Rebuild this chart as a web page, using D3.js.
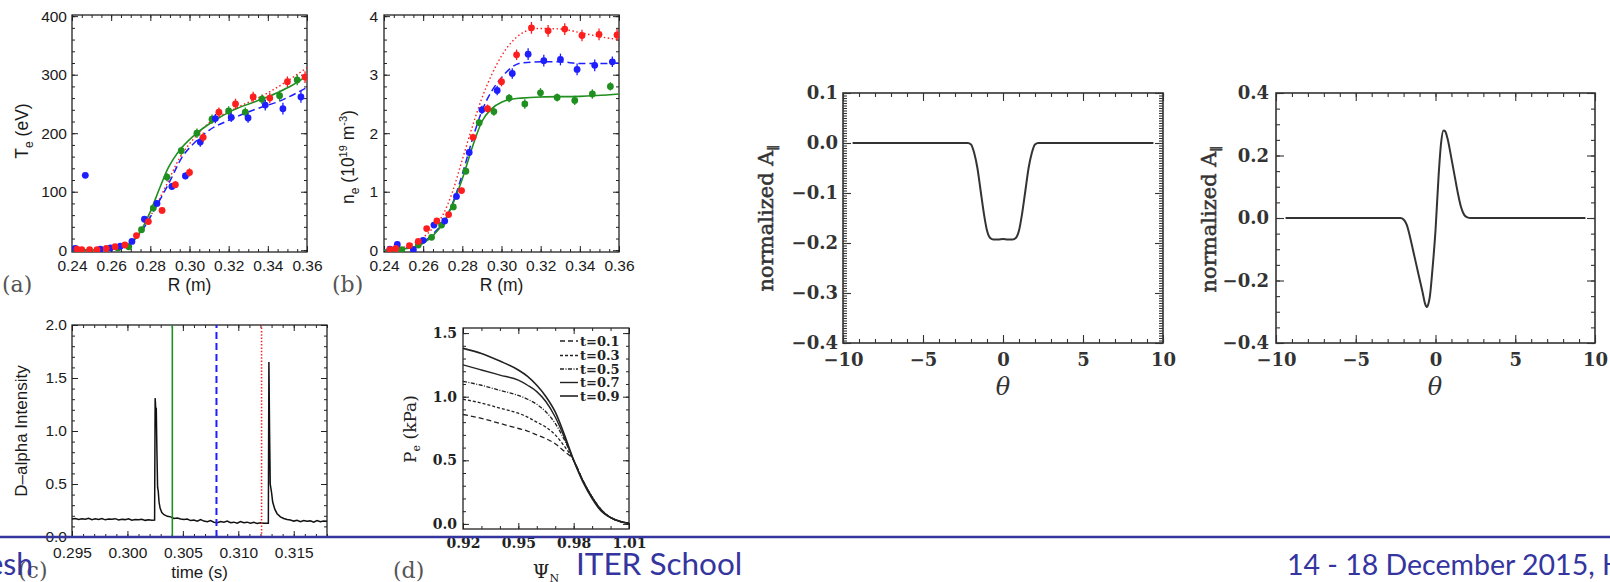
<!DOCTYPE html>
<html><head><meta charset="utf-8">
<script src="https://cdn.jsdelivr.net/npm/d3@7"></script>
<style>body{margin:0;background:#fff;overflow:hidden}svg{display:block}</style>
</head><body>
<svg id="c" width="1610" height="582"></svg>
<script>
// ---------------- DATA ----------------
// (a) Te profiles: [R, Te, err]
const teGreen = [[0.2415,2,3],[0.2635,4,3],[0.269,6,3],[0.2755,35,4],[0.2815,72,5],[0.2885,125,7],[0.2958,170,7],[0.3038,200,8],[0.3115,224,8],[0.32,238,8],[0.3285,236,8],[0.337,258,8],[0.346,264,9],[0.355,291,9]];
const teRed = [[0.2425,2,3],[0.245,1,3],[0.249,1,3],[0.2528,1,3],[0.2575,3,3],[0.262,6,3],[0.267,9,3],[0.2729,25,4],[0.279,49,5],[0.286,68,5],[0.2928,112,6],[0.300,133,7],[0.307,193,8],[0.315,236,8],[0.3235,250,9],[0.3325,262,9],[0.341,260,9],[0.350,288,9],[0.359,296,10]];
const teBlue = [[0.2417,3,3],[0.2468,128,0],[0.2545,2,3],[0.2596,4,3],[0.2647,7,3],[0.2706,15,4],[0.277,53,5],[0.2834,80,5],[0.291,109,6],[0.2979,127,6],[0.3055,185,8],[0.3132,225,8],[0.3213,227,8],[0.3299,226,8],[0.3387,248,9],[0.3477,242,10],[0.3569,262,10]];
const teFitGreen = [[0.24,0],[0.255,1],[0.265,5],[0.27,12],[0.275,32],[0.28,66],[0.285,108],[0.289,140],[0.292,157],[0.296,175],[0.304,201],[0.312,220],[0.322,239],[0.336,257],[0.346,271],[0.352,281],[0.36,298]];
const teFitBlue = [[0.24,0],[0.26,2],[0.268,8],[0.275,30],[0.283,75],[0.29,118],[0.296,158],[0.302,182],[0.31,205],[0.32,222],[0.333,240],[0.346,255],[0.36,278]];
const teFitRed = [[0.24,0],[0.26,2],[0.268,8],[0.275,32],[0.28,58],[0.288,110],[0.295,158],[0.302,190],[0.309,215],[0.3226,241],[0.3395,268],[0.36,312]];
// (b) ne profiles: [R, ne, err]
const neRed = [[0.243,0.01,0.02],[0.246,0.03,0.02],[0.253,0.08,0.03],[0.2575,0.15,0.03],[0.2618,0.37,0.04],[0.267,0.5,0.04],[0.273,0.61,0.04],[0.2796,1.02,0.05],[0.2855,1.93,0.06],[0.2929,2.42,0.07],[0.300,2.88,0.08],[0.3077,3.34,0.09],[0.3153,3.8,0.1],[0.3238,3.75,0.1],[0.3323,3.78,0.1],[0.3411,3.67,0.1],[0.3498,3.69,0.1],[0.359,3.68,0.1]];
const neBlue = [[0.243,0.02,0.02],[0.2468,0.1,0.03],[0.255,0.01,0.02],[0.260,0.17,0.03],[0.2655,0.43,0.04],[0.271,0.5,0.04],[0.277,0.92,0.05],[0.2835,1.67,0.06],[0.290,2.4,0.07],[0.2978,2.73,0.08],[0.3055,3.02,0.09],[0.3136,3.35,0.1],[0.3216,3.24,0.1],[0.3301,3.26,0.1],[0.3386,3.09,0.1],[0.3476,3.16,0.1],[0.3566,3.22,0.09]];
const neGreen = [[0.244,0.0,0.02],[0.249,0.01,0.02],[0.2575,0.09,0.03],[0.2643,0.22,0.03],[0.2694,0.43,0.04],[0.2754,0.74,0.05],[0.2818,1.35,0.05],[0.2886,2.18,0.06],[0.2961,2.37,0.07],[0.3039,2.6,0.07],[0.3119,2.5,0.08],[0.3199,2.69,0.08],[0.3284,2.61,0.07],[0.3374,2.56,0.08],[0.3464,2.67,0.08],[0.3556,2.8,0.07]];
const neFitGreen = [[0.24,0],[0.25,0.02],[0.26,0.12],[0.265,0.25],[0.27,0.45],[0.275,0.78],[0.28,1.22],[0.285,1.75],[0.29,2.2],[0.295,2.42],[0.30,2.53],[0.305,2.58],[0.31,2.6],[0.32,2.62],[0.34,2.63],[0.36,2.67]];
const neFitBlue = [[0.24,0],[0.25,0.03],[0.26,0.14],[0.265,0.28],[0.27,0.47],[0.275,0.8],[0.28,1.3],[0.285,1.88],[0.29,2.38],[0.295,2.72],[0.30,2.95],[0.305,3.12],[0.31,3.2],[0.32,3.22],[0.33,3.22],[0.34,3.19],[0.35,3.19],[0.36,3.2]];
const neFitRed = [[0.24,0],[0.25,0.05],[0.26,0.22],[0.265,0.38],[0.27,0.6],[0.275,1.0],[0.28,1.55],[0.285,2.1],[0.29,2.6],[0.295,3.0],[0.30,3.32],[0.305,3.55],[0.31,3.7],[0.315,3.77],[0.32,3.79],[0.33,3.78],[0.34,3.72],[0.35,3.65],[0.36,3.6]];
// (c) D-alpha trace
const daTime = [0.2950,0.2953,0.2956,0.2959,0.2962,0.2965,0.2968,0.2971,0.2974,0.2977,0.2980,0.2983,0.2986,0.2989,0.2992,0.2995,0.2998,0.3001,0.3004,0.3007,0.3010,0.3013,0.3016,0.3019,0.3022,0.30245,
  0.30250,0.30256,0.30260,0.30266,0.30272,0.30278,0.30285,0.30295,0.3031,0.3033,0.3036,0.3039,0.3042,0.3045,0.3048,0.3051,0.3054,0.3057,0.3060,0.3063,0.3066,0.3069,0.3072,0.3075,0.3078,0.3081,0.3084,0.3087,0.3090,0.3093,0.3096,0.3099,0.3102,0.3105,0.3108,0.3111,0.3114,0.3117,0.3120,0.3123,0.31271,
  0.31276,0.31282,0.31288,0.3130,0.3131,0.3133,0.3135,0.3138,0.3141,0.3144,0.3147,0.3150,0.3153,0.3156,0.3159,0.3162,0.3165,0.3168,0.3171,0.3174,0.3177,0.3180];
const daVal = [0.170,0.175,0.165,0.172,0.168,0.176,0.163,0.171,0.166,0.174,0.162,0.170,0.167,0.173,0.160,0.168,0.164,0.171,0.158,0.166,0.162,0.168,0.157,0.163,0.158,0.160,
  1.31,1.20,1.22,0.80,0.47,0.43,0.33,0.27,0.23,0.21,0.195,0.19,0.175,0.18,0.17,0.165,0.17,0.155,0.16,0.15,0.165,0.15,0.145,0.155,0.14,0.135,0.145,0.14,0.15,0.135,0.14,0.13,0.145,0.135,0.14,0.13,0.138,0.128,0.135,0.13,0.13,
  1.65,1.0,0.5,0.42,0.33,0.26,0.22,0.19,0.175,0.165,0.16,0.15,0.158,0.145,0.155,0.148,0.152,0.14,0.155,0.145,0.15,0.148];
const daMarkers = [0.30405, 0.30803, 0.3121];
// (d) Pe profiles
const pePsi = [0.92,0.93,0.94,0.95,0.955,0.96,0.965,0.97,0.975,0.98,0.985,0.99,0.995,1.0,1.005,1.01];
const peT01 = [0.86,0.83,0.79,0.75,0.73,0.70,0.67,0.63,0.57,0.50,0.34,0.21,0.11,0.05,0.02,0.005];
const peT03 = [0.98,0.95,0.91,0.87,0.84,0.80,0.76,0.70,0.61,0.50,0.34,0.21,0.11,0.05,0.02,0.005];
const peT05 = [1.12,1.09,1.05,1.01,0.98,0.94,0.88,0.79,0.66,0.50,0.34,0.21,0.11,0.05,0.02,0.005];
const peT07 = [1.25,1.21,1.17,1.13,1.09,1.04,0.96,0.84,0.68,0.50,0.34,0.21,0.11,0.05,0.02,0.005];
const peT09 = [1.38,1.34,1.28,1.21,1.16,1.09,1.00,0.88,0.70,0.50,0.33,0.20,0.10,0.05,0.02,0.005];
const peLabels = ["t=0.1","t=0.3","t=0.5","t=0.7","t=0.9"];
// (e),(f) normalized A_parallel vs theta
const eTheta = [-9.4,-2.2,-2.0,-1.8,-1.6,-1.4,-1.2,-1.0,-0.8,-0.6,-0.3,0,0.3,0.6,0.8,1.0,1.2,1.4,1.6,1.8,2.0,2.2,9.4];
const eA = [0,0,-0.003,-0.02,-0.05,-0.095,-0.14,-0.175,-0.19,-0.193,-0.193,-0.192,-0.193,-0.193,-0.19,-0.175,-0.14,-0.095,-0.05,-0.02,-0.003,0,0];
const fTheta = [-9.4,-2.2,-2.0,-1.8,-1.6,-1.4,-1.2,-1.0,-0.8,-0.65,-0.55,-0.45,-0.35,-0.2,0,0.2,0.35,0.5,0.6,0.75,1.0,1.2,1.4,1.6,1.8,2.0,2.2,9.4];
const fA = [0,0,-0.005,-0.022,-0.06,-0.105,-0.15,-0.195,-0.24,-0.275,-0.285,-0.275,-0.25,-0.17,-0.04,0.14,0.24,0.28,0.278,0.255,0.19,0.135,0.08,0.035,0.01,0.002,0,0];
// tick values
const rTicks = [0.24,0.26,0.28,0.30,0.32,0.34,0.36];
const teTicks = [0,100,200,300,400];
const neTicks = [0,1,2,3,4];
const tTicks = [0.295,0.300,0.305,0.310,0.315];
const daTicks = [0.0,0.5,1.0,1.5,2.0];
const psiTicks = [0.92,0.95,0.98,1.01];
const peTicks = [0.0,0.5,1.0,1.5];
const thTicks = [-10,-5,0,5,10];
const eTicks = [-0.4,-0.3,-0.2,-0.1,0.0,0.1];
const fTicks = [-0.4,-0.2,0.0,0.2,0.4];

// ---------------- DRAWING ----------------
const svg = d3.select('#c');
const GREEN='#1f8f1f', BLUE='#1e1eff', RED='#ff1e1e';
let clipId=0;
function panel(c){
  const x=d3.scaleLinear().domain(c.xd).range([c.x0,c.x1]);
  const y=d3.scaleLinear().domain(c.yd).range([c.y1,c.y0]);
  const g=svg.append('g');
  const style=sel=>{sel.select('.domain').remove();
    sel.selectAll('line').attr('stroke',c.col).attr('stroke-width',c.tw);
    sel.selectAll('text').attr('font-family',c.font).attr('font-size',c.fs).attr('font-weight',c.fw||'normal').attr('fill',c.tc);};
  const inr=v=>v>=Math.min(...c.xd)-1e-9&&v<=Math.max(...c.xd)+1e-9;
  const iny=v=>v>=Math.min(...c.yd)-1e-9&&v<=Math.max(...c.yd)+1e-9;
  const xMin=c.xMin.filter(inr), yMin=c.yMin.filter(iny);
  g.append('g').attr('transform',`translate(0,${c.y1})`).call(d3.axisBottom(x).tickValues(c.xMaj).tickSize(-c.maj).tickPadding(c.xPad).tickFormat(c.xFmt)).call(style);
  g.append('g').attr('transform',`translate(0,${c.y1})`).call(d3.axisBottom(x).tickValues(xMin).tickSize(-c.min).tickFormat('')).call(style);
  g.append('g').attr('transform',`translate(0,${c.y0})`).call(d3.axisTop(x).tickValues(c.xMaj).tickSize(-c.maj).tickFormat('')).call(style);
  g.append('g').attr('transform',`translate(0,${c.y0})`).call(d3.axisTop(x).tickValues(xMin).tickSize(-c.min).tickFormat('')).call(style);
  g.append('g').attr('transform',`translate(${c.x0},0)`).call(d3.axisLeft(y).tickValues(c.yMaj).tickSize(-c.maj).tickPadding(c.yPad).tickFormat(c.yFmt)).call(style);
  g.append('g').attr('transform',`translate(${c.x0},0)`).call(d3.axisLeft(y).tickValues(yMin).tickSize(-c.min).tickFormat('')).call(style);
  g.append('g').attr('transform',`translate(${c.x1},0)`).call(d3.axisRight(y).tickValues(c.yMaj).tickSize(-c.maj).tickFormat('')).call(style);
  g.append('g').attr('transform',`translate(${c.x1},0)`).call(d3.axisRight(y).tickValues(yMin).tickSize(-c.min).tickFormat('')).call(style);
  g.append('rect').attr('x',c.x0).attr('y',c.y0).attr('width',c.x1-c.x0).attr('height',c.y1-c.y0)
    .attr('fill','none').attr('stroke',c.col).attr('stroke-width',c.fw2||1.3);
  const id='clip'+(clipId++);
  svg.append('clipPath').attr('id',id).append('rect').attr('x',c.x0).attr('y',c.y0).attr('width',c.x1-c.x0).attr('height',c.y1-c.y0);
  const data=svg.append('g').attr('clip-path',`url(#${id})`);
  return {x,y,data};
}
function stepRange(a,b,s){const out=[];const n=Math.round((b-a)/s);for(let i=0;i<=n;i++)out.push(+(a+i*s).toFixed(6));return out;}

const sansCfg={font:'Liberation Sans, Arial, sans-serif',fs:15.5,tc:'#1a1a1a',col:'#222',tw:1,maj:6,min:3};

// ---- (a)
const A=panel(Object.assign({},sansCfg,{x0:72,x1:307,y0:15,y1:252,xd:[0.24,0.36],yd:[-3,402],
  xMaj:rTicks,xMin:stepRange(0.24,0.36,0.005),yMaj:teTicks,yMin:stepRange(0,400,20),
  xFmt:d3.format('.2f'),yFmt:d3.format('d'),xPad:8,yPad:5}));
// ---- (b)
const B=panel(Object.assign({},sansCfg,{x0:384,x1:619,y0:15,y1:252,xd:[0.24,0.36],yd:[-0.03,4.02],
  xMaj:rTicks,xMin:stepRange(0.24,0.36,0.005),yMaj:neTicks,yMin:stepRange(0,4,0.2),
  xFmt:d3.format('.2f'),yFmt:d3.format('d'),xPad:8,yPad:6}));

function fit(P,pts,color,dash,w){
  P.data.append('path').datum(pts).attr('fill','none').attr('stroke',color).attr('stroke-width',w||1.5)
   .attr('stroke-dasharray',dash||null)
   .attr('d',d3.line().x(d=>P.x(d[0])).y(d=>P.y(d[1])).curve(d3.curveMonotoneX));
}
function pts(P,arr,color){
  const g=P.data.append('g');
  g.selectAll('line').data(arr.filter(d=>d[2]>0)).join('line')
   .attr('x1',d=>P.x(d[0])).attr('x2',d=>P.x(d[0])).attr('y1',d=>P.y(d[1]-d[2])).attr('y2',d=>P.y(d[1]+d[2]))
   .attr('stroke',color).attr('stroke-width',1.3);
  g.selectAll('circle').data(arr).join('circle').attr('cx',d=>P.x(d[0])).attr('cy',d=>P.y(d[1])).attr('r',3.4).attr('fill',color);
}
fit(A,teFitRed,RED,'1.5,2.5',1.4); fit(A,teFitBlue,BLUE,'7,4',1.5); fit(A,teFitGreen,GREEN,null,1.6);
pts(A,teGreen,GREEN); pts(A,teBlue,BLUE); pts(A,teRed,RED);
fit(B,neFitRed,RED,'1.5,2.5',1.4); fit(B,neFitBlue,BLUE,'7,4',1.5); fit(B,neFitGreen,GREEN,null,1.6);
pts(B,neGreen,GREEN); pts(B,neBlue,BLUE); pts(B,neRed,RED);

function txt(x,y,s,o){
  const t=svg.append('text').attr('x',x).attr('y',y).attr('font-family',o.font).attr('font-size',o.fs)
    .attr('fill',o.fill||'#1a1a1a').attr('text-anchor',o.anchor||'middle').attr('font-weight',o.fw||'normal')
    .attr('font-style',o.style||'normal');
  if(o.stroke) t.attr('stroke',o.fill).attr('stroke-width',o.stroke);
  if(o.rot) t.attr('transform',`rotate(-90,${x},${y})`);
  if(Array.isArray(s)) s.forEach(p=>{const ts=t.append('tspan').text(p[0]); if(p[1]) ts.attr('dy',p[1]); if(p[2]) ts.attr('font-size',p[2]);});
  else t.text(s);
  return t;
}
const SANS='Liberation Sans, Arial, sans-serif', SERIF='DejaVu Serif, serif';
txt(189.5,291,'R (m)',{font:SANS,fs:17.5});
txt(501.5,291,'R (m)',{font:SANS,fs:17.5});
txt(28,131,[['T'],['e',5,12],[' (eV)',-5,17.5]],{font:SANS,fs:17.5,rot:true});
txt(354,157,[['n'],['e',5,12],['  (10',-5,17.5],['19',-7,11],[' m',7,17.5],['-3',-7,11],[')',7,17.5]],{font:SANS,fs:17.5,rot:true});
txt(2,292,'(a)',{font:SERIF,fs:22,fill:'#555',anchor:'start'});
txt(332,292,'(b)',{font:SERIF,fs:22,fill:'#555',anchor:'start'});

// ---- (c)
const C=panel(Object.assign({},sansCfg,{x0:72,x1:327,y0:325,y1:537,xd:[0.295,0.318],yd:[0,2.0],
  xMaj:tTicks,xMin:stepRange(0.295,0.318,0.001),yMaj:daTicks,yMin:stepRange(0,2,0.1),
  xFmt:d3.format('.3f'),yFmt:d3.format('.1f'),xPad:10,yPad:5}));
C.data.append('path').datum(daTime.map((t,i)=>[t,daVal[i]])).attr('fill','none').attr('stroke','#111').attr('stroke-width',1.5)
  .attr('d',d3.line().x(d=>C.x(d[0])).y(d=>C.y(d[1])));
const mk=[[GREEN,null,1.6],[BLUE,'7,4',2],[RED,'1.5,1.8',1.5]];
daMarkers.forEach((t,i)=>C.data.append('line').attr('x1',C.x(t)).attr('x2',C.x(t)).attr('y1',C.y(0)).attr('y2',C.y(2))
  .attr('stroke',mk[i][0]).attr('stroke-width',mk[i][2]).attr('stroke-dasharray',mk[i][1]));
txt(27,431,'D–alpha Intensity',{font:SANS,fs:17,rot:true});
txt(199.5,578,'time (s)',{font:SANS,fs:17});
txt(18,578,'(c)',{font:SERIF,fs:22,fill:'#555',anchor:'start'});

// ---- (d)
const D=panel({font:SERIF,fs:14,fw:'bold',tc:'#222',col:'#222',tw:1,maj:6,min:3,
  x0:463,x1:629,y0:328,y1:529,xd:[0.92,1.01],yd:[-0.04,1.54],
  xMaj:psiTicks,xMin:stepRange(0.92,1.01,0.01),yMaj:peTicks,yMin:stepRange(0,1.5,0.1),
  xFmt:d3.format('.2f'),yFmt:d3.format('.1f'),xPad:9,yPad:6});
const peSeries=[peT01,peT03,peT05,peT07,peT09];
const peDash=['5,3','3,2','4,1.5,1,1.5',null,null];
const peW=[1.3,1.3,1.3,1.4,1.6];
peSeries.forEach((s,i)=>{
  D.data.append('path').datum(pePsi.map((p,j)=>[p,s[j]])).attr('fill','none').attr('stroke','#222')
   .attr('stroke-width',peW[i]).attr('stroke-dasharray',peDash[i])
   .attr('d',d3.line().x(d=>D.x(d[0])).y(d=>D.y(d[1])).curve(d3.curveMonotoneX));
});
const legY=[341,355.5,369,382.5,396];
peLabels.forEach((l,i)=>{
  svg.append('line').attr('x1',560).attr('x2',578).attr('y1',legY[i]).attr('y2',legY[i]).attr('stroke','#222')
    .attr('stroke-width',peW[i]).attr('stroke-dasharray',peDash[i]);
  txt(580,legY[i]+4.5,l,{font:SERIF,fs:13,fw:'bold',anchor:'start',fill:'#222'});
});
txt(416,429,[['P'],['e',4,11],['  (kPa)',-4,17]],{font:SERIF,fs:17,rot:true,fill:'#222'});
txt(546,578,[['Ψ'],['N',4,11]],{font:SERIF,fs:19,fill:'#222'});
txt(393,578,'(d)',{font:SERIF,fs:22,fill:'#555',anchor:'start'});

// ---- (e)
const serifB={font:SERIF,fs:18,fw:'bold',tc:'#333',col:'#333',tw:1.1,maj:8,min:4,fw2:1.6};
const E=panel(Object.assign({},serifB,{x0:843,x1:1163,y0:93,y1:343,xd:[-10,10],yd:[-0.4,0.1],
  xMaj:thTicks,xMin:stepRange(-10,10,1),yMaj:eTicks,yMin:stepRange(-0.4,0.1,0.005),
  xFmt:d3.format('d'),yFmt:d3.format('.1f'),xPad:10,yPad:5}));
E.data.append('path').datum(eTheta.map((t,i)=>[t,eA[i]])).attr('fill','none').attr('stroke','#333').attr('stroke-width',2)
  .attr('d',d3.line().x(d=>E.x(d[0])).y(d=>E.y(d[1])).curve(d3.curveMonotoneX));
txt(773,218,[['normalized  A'],['∥',5,13]],{font:SERIF,fs:21,rot:true,fill:'#333',stroke:0.5});
txt(1003,395,'θ',{font:SERIF,fs:24,style:'italic',fill:'#333'});

// ---- (f)
const F=panel(Object.assign({},serifB,{x0:1276,x1:1595,y0:93,y1:343,xd:[-10,10],yd:[-0.4,0.4],
  xMaj:thTicks,xMin:stepRange(-10,10,1),yMaj:fTicks,yMin:stepRange(-0.4,0.4,0.05),
  xFmt:d3.format('d'),yFmt:d3.format('.1f'),xPad:10,yPad:7}));
F.data.append('path').datum(fTheta.map((t,i)=>[t,fA[i]])).attr('fill','none').attr('stroke','#333').attr('stroke-width',2)
  .attr('d',d3.line().x(d=>F.x(d[0])).y(d=>F.y(d[1])).curve(d3.curveMonotoneX));
txt(1216,219,[['normalized  A'],['∥',5,13]],{font:SERIF,fs:21,rot:true,fill:'#333',stroke:0.5});
txt(1435,395,'θ',{font:SERIF,fs:24,style:'italic',fill:'#333'});

// ---- footer
const FOOT='#3535a0';
svg.append('line').attr('x1',0).attr('x2',1610).attr('y1',537).attr('y2',537).attr('stroke',FOOT).attr('stroke-width',2.5);
txt(33,575,'esh',{font:'Lato, sans-serif',fs:30,fill:FOOT,anchor:'end'});
txt(576,575,'ITER School',{font:'Lato, sans-serif',fs:31.5,fill:FOOT,anchor:'start'});
txt(1287,575,'14 - 18 December 2015, Hefei',{font:'Lato, sans-serif',fs:28.5,fill:FOOT,anchor:'start'});
</script>
</body></html>
